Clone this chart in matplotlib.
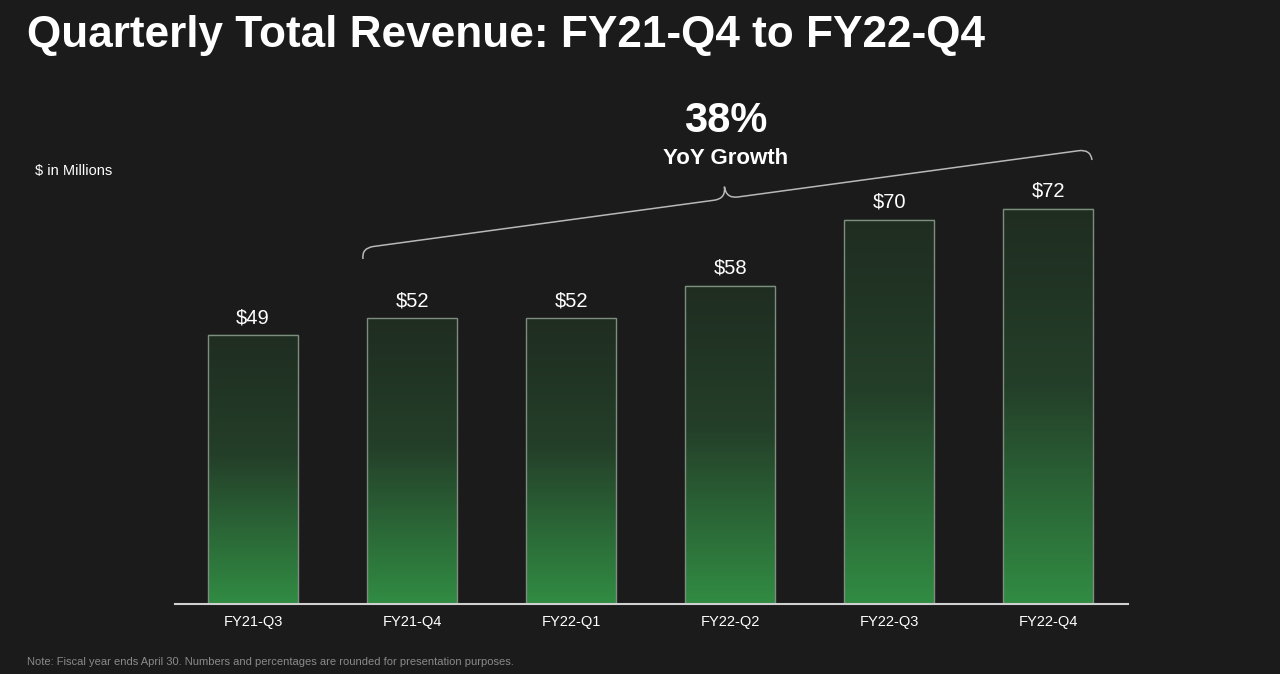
import numpy as np
import matplotlib
matplotlib.use("Agg")
import matplotlib.pyplot as plt
from matplotlib.path import Path
from matplotlib.patches import PathPatch, Rectangle
from matplotlib.colors import LinearSegmentedColormap

# Chart data
quarters = ["FY21-Q3", "FY21-Q4", "FY22-Q1", "FY22-Q2", "FY22-Q3", "FY22-Q4"]
revenue = [49, 52, 52, 58, 70, 72]
value_labels = ["$49", "$52", "$52", "$58", "$70", "$72"]
growth_label = "38%"

BG = "#1b1b1b"
plt.rcParams["font.family"] = ["Liberation Sans", "DejaVu Sans"]

fig = plt.figure(figsize=(12.8, 6.74), dpi=100, facecolor=BG)
ax = fig.add_axes([175 / 1280, 1 - 604 / 674, 953 / 1280, 492 / 674])
ax.set_facecolor(BG)

x = np.arange(len(quarters))
width = 0.566

# Gradient fill for each bar: dark at the top, bright green at the bottom.
cmap = LinearSegmentedColormap.from_list(
    "bar", [(0, "#1f2d21"), (0.45, "#243f29"), (1, "#318c43")])
grad = np.linspace(0, 1, 256).reshape(-1, 1)
for xi, val, lab in zip(x, revenue, value_labels):
    ax.imshow(grad, cmap=cmap, aspect="auto", origin="upper",
              extent=(xi - width / 2, xi + width / 2, 0, val), zorder=1)
    ax.add_patch(Rectangle((xi - width / 2, 0), width, val, fill=False,
                           edgecolor="#7f8c80", linewidth=1.0, zorder=2))
    ax.text(xi, val + 1.4, lab, ha="center", va="bottom", color="white",
            fontsize=14.5, zorder=3)
ax.set_xlim(-0.49, 5.5)
ax.set_ylim(0, 89.6)

for s in ["top", "right", "left"]:
    ax.spines[s].set_visible(False)
ax.spines["bottom"].set_color("#d0d0d0")
ax.spines["bottom"].set_linewidth(1.5)
ax.set_yticks([])
ax.set_xticks(x)
ax.set_xticklabels(quarters, color="white", fontsize=10.5)
ax.tick_params(axis="x", length=0, pad=8)


# Curly brace over FY21-Q4 .. FY22-Q4, drawn in pixel space
def brace(p0, p1, h, tip):
    p0 = np.array(p0, float)
    p1 = np.array(p1, float)
    d = p1 - p0
    u = d / np.hypot(*d)
    n = np.array([-u[1], u[0]])
    m = (p0 + p1) / 2
    r = 12
    codes = [Path.MOVETO, Path.CURVE3, Path.CURVE3, Path.LINETO,
             Path.CURVE3, Path.CURVE3, Path.MOVETO, Path.CURVE3, Path.CURVE3,
             Path.LINETO, Path.CURVE3, Path.CURVE3]
    pts = [p0, p0 + h * n, p0 + h * n + r * u, m + h * n - r * u,
           m + h * n, m + (h + tip) * n,
           m + (h + tip) * n, m + h * n, m + h * n + r * u,
           p1 + h * n - r * u, p1 + h * n, p1]
    pts = [(q[0] / 1280, q[1] / 674) for q in pts]
    return Path(pts, codes)


bp = brace((363, 674 - 259), (1092, 674 - 160), 11, 12)
fig.patches.append(PathPatch(bp, transform=fig.transFigure, facecolor="none",
                             edgecolor="#b8b8b8", linewidth=1.1))

# Text
fig.text(27 / 1280, 1 - 35 / 674, "Quarterly Total Revenue: FY21-Q4 to FY22-Q4",
         color="white", fontsize=31.8, fontweight="bold", va="center", ha="left")
fig.text(726 / 1280, 1 - 121 / 674, growth_label, color="white", fontsize=30,
         fontweight="bold", ha="center", va="center")
fig.text(726 / 1280, 1 - 159 / 674, "YoY Growth", color="white", fontsize=16,
         fontweight="bold", ha="center", va="center")
fig.text(35 / 1280, 1 - 171 / 674, "$ in Millions", color="white", fontsize=10.5,
         ha="left", va="center")
fig.text(27 / 1280, 1 - 662 / 674,
         "Note: Fiscal year ends April 30. Numbers and percentages are rounded for presentation purposes.",
         color="#8a8a8a", fontsize=8, ha="left", va="center")

fig.savefig("out.png", dpi=100, facecolor=BG)
